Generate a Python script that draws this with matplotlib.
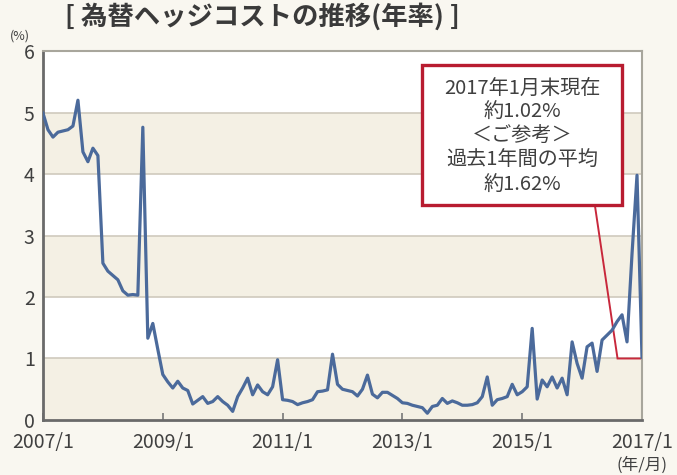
import matplotlib
matplotlib.use("Agg")
import matplotlib.pyplot as plt
from matplotlib.patches import Rectangle

plt.rcParams['font.family'] = ['Noto Sans CJK JP', 'DejaVu Sans']

# monthly hedge cost (% p.a.), 2007/1 .. 2017/1
hedge_cost = [
    4.99, 4.72, 4.60, 4.68, 4.70, 4.72, 4.78, 5.20, 4.36, 4.20, 4.42, 4.30,
    2.55, 2.42, 2.35, 2.28, 2.10, 2.03, 2.04, 2.03, 4.76, 1.33, 1.57, 1.15,
    0.74, 0.62, 0.52, 0.63, 0.52, 0.48, 0.26, 0.32, 0.38, 0.27, 0.30, 0.38,
    0.30, 0.24, 0.14, 0.38, 0.52, 0.68, 0.41, 0.57, 0.46, 0.41, 0.54, 0.98,
    0.33, 0.32, 0.30, 0.25, 0.28, 0.30, 0.33, 0.46, 0.47, 0.49, 1.07, 0.58,
    0.50, 0.48, 0.46, 0.39, 0.50, 0.73, 0.42, 0.36, 0.45, 0.45, 0.40, 0.35,
    0.28, 0.27, 0.24, 0.22, 0.20, 0.11, 0.22, 0.24, 0.35, 0.27, 0.31, 0.28,
    0.24, 0.24, 0.25, 0.28, 0.38, 0.70, 0.24, 0.33, 0.35, 0.38, 0.58, 0.41,
    0.46, 0.54, 1.49, 0.34, 0.65, 0.54, 0.70, 0.52, 0.68, 0.41, 1.27, 0.92,
    0.68, 1.19, 1.25, 0.79, 1.30, 1.38, 1.46, 1.60, 1.71, 1.27, 2.70, 3.98,
    1.02,
]
months = list(range(len(hedge_cost)))

tick_months = [0, 24, 48, 72, 96, 120]
tick_labels = ["2007/1", "2009/1", "2011/1", "2013/1", "2015/1", "2017/1"]
y_ticks = [0, 1, 2, 3, 4, 5, 6]

note_lines = ["2017年1月末現在", "約1.02%", "＜ご参考＞", "過去1年間の平均", "約1.62%"]
pointer_x = [110.6, 115.1, 120.0]
pointer_y = [3.47, 1.0, 1.0]

fig_bg = "#f9f7f0"
band = "#f4f0e4"
ink = "#404040"

fig = plt.figure(figsize=(6.77, 4.75), dpi=100, facecolor=fig_bg)
ax = fig.add_axes([0.0635, 0.1158, 0.8848, 0.7768])
ax.set_facecolor("white")

for low in (0, 2, 4):
    ax.axhspan(low, low + 1, color=band, lw=0, zorder=0)
for level in (1, 2, 3, 4, 5):
    ax.axhline(level, color="#cfcabd", lw=1.2, zorder=1)

ax.plot(pointer_x, pointer_y, color="#c8283c", lw=1.4, zorder=2,
        solid_joinstyle="miter")
ax.plot(months, hedge_cost, color="#4b6a9b", lw=2.3, zorder=3,
        solid_joinstyle="round")

# callout box
ax.add_patch(Rectangle((75.9, 3.5), 40.1, 2.27, facecolor="white",
                       edgecolor="#b81c30", lw=2.4, zorder=4))
for i, line in enumerate(note_lines):
    ax.text(96, 5.40 - i * 0.395, line, ha="center", va="center",
            fontsize=14.5, color=ink, zorder=5)

ax.set_xlim(0, 120)
ax.set_ylim(0, 6)
ax.set_xticks(tick_months)
ax.set_xticklabels(tick_labels)
ax.set_yticks(y_ticks)
ax.tick_params(axis="x", direction="in", length=5, width=1.2, color="#777777",
               pad=9, labelsize=14, labelcolor=ink)
ax.tick_params(axis="y", length=0, pad=6, labelsize=14, labelcolor=ink)

for side in ("left", "bottom"):
    ax.spines[side].set_color("#6a6a6a")
    ax.spines[side].set_linewidth(2)
for side in ("top", "right"):
    ax.spines[side].set_color("#a8a69c")
    ax.spines[side].set_linewidth(1.5)

fig.text(20 / 677, 1 - 36 / 475, "(%)", ha="center", va="center",
         fontsize=9, color=ink)
fig.text(642 / 677, 1 - 465 / 475, "(年/月)", ha="center", va="center",
         fontsize=12, color=ink)
fig.text(262 / 677, 1 - 17 / 475, "[ 為替ヘッジコストの推移(年率) ]",
         ha="center", va="center", fontsize=19, fontweight="bold",
         color="#3a3a3a")

fig.savefig("out.png", dpi=100, facecolor=fig_bg)
